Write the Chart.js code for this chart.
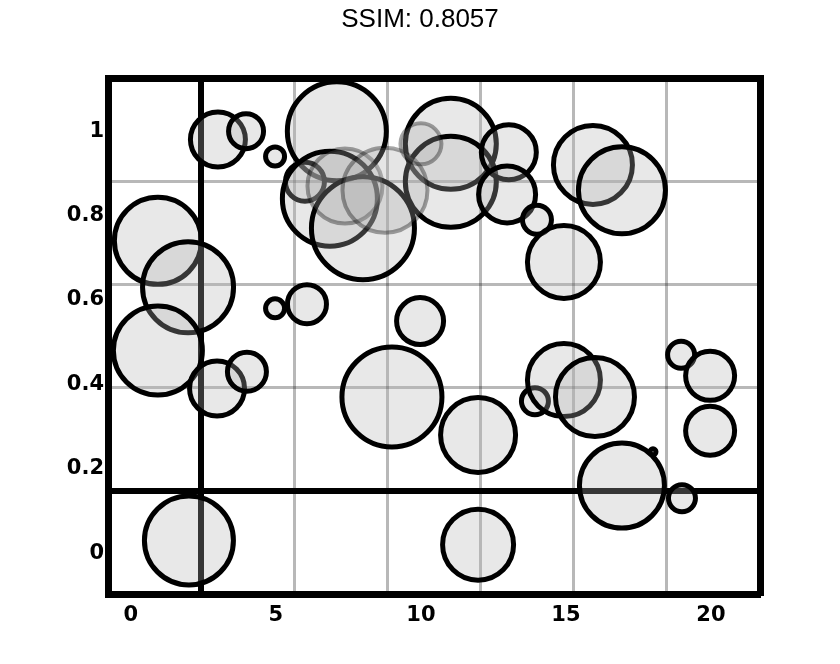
<!DOCTYPE html>
<html>
<head>
<meta charset="utf-8">
<script src="https://cdn.jsdelivr.net/npm/chart.js@4"></script>
<style>
  body { margin: 0; background: #fff; }
  #wrap { width: 840px; height: 664px; }
</style>
</head>
<body>
<div id="wrap"><canvas id="bubbleChart" width="840" height="664"></canvas></div>
<script>
// values
const xValues = [2.0, 11.97, 9.97, 9.0, 11.97, 13.93, 14.93, 16.0, 18.97, 19.97, 19.97, 16.93, 19.0, 18.0,
  0.93, 1.97, 0.93, 2.97, 4.0, 4.97, 6.07, 11.03, 11.03, 13.03, 12.97, 14.0, 14.93, 15.93, 16.93,
  7.1, 6.0, 6.86, 8.0, 3.0, 3.97, 4.97];
const yValues = [0.03, 0.02, 0.55, 0.37, 0.28, 0.36, 0.41, 0.37, 0.47, 0.42, 0.29, 0.16, 0.13, 0.24,
  0.74, 0.63, 0.48, 0.39, 0.43, 0.58, 0.59, 0.97, 0.88, 0.95, 0.85, 0.79, 0.69, 0.92, 0.86,
  1.0, 0.88, 0.84, 0.77, 0.98, 1.0, 0.94];
const bubbleSize = [44.5, 35.5, 23.5, 50, 37.5, 13.5, 36.5, 39.5, 13.5, 24.5, 24.5, 42.5, 13.5, 3,
  43.5, 45.5, 44.5, 27.5, 19.5, 9.5, 19.5, 45.5, 45.5, 27.5, 28.5, 14.5, 36.5, 39.5, 43.5,
  49.5, 19.5, 47.5, 51.5, 27.5, 17.5, 9.5];
// bubbles whose outline shows only faintly through the cluster
const faintX = [7.38, 8.76, 10.0];
const faintY = [0.87, 0.86, 0.97];
const faintSize = [37.5, 42.5, 20.5];
const xTicks = [0, 5, 10, 15, 20];
const yTicks = [0, 0.2, 0.4, 0.6, 0.8, 1];

const points = xValues.map((x, i) => ({ x: x, y: yValues[i], r: bubbleSize[i] }));
const faintPoints = faintX.map((x, i) => ({ x: x, y: faintY[i], r: faintSize[i] }));

const gridColor = c => c.tick.value === 1 ? '#000' : 'rgba(0,0,0,0.28)';
const gridWidth = c => c.tick.value === 1 ? 6 : 3;
const labelFont = { family: 'DejaVu Sans', size: 21, weight: 'bold' };

const ctx = document.getElementById('bubbleChart').getContext('2d');
new Chart(ctx, {
  type: 'bubble',
  data: {
    datasets: [{
      data: faintPoints,
      backgroundColor: 'rgba(170,170,170,0.3)',
      borderColor: 'rgba(0,0,0,0.35)',
      borderWidth: 4
    }, {
      data: points,
      backgroundColor: 'rgba(180,180,180,0.3)',
      borderColor: '#000',
      borderWidth: 5
    }]
  },
  options: {
    responsive: false,
    animation: false,
    layout: { padding: 0 },
    plugins: {
      legend: { display: false },
      tooltip: { enabled: false },
      title: {
        display: true,
        text: 'SSIM: 0.8057',
        color: '#000',
        font: { family: 'Liberation Sans', size: 26, weight: 'normal' },
        padding: { top: 4, bottom: 42.8 }
      }
    },
    scales: {
      x: {
        type: 'linear',
        position: 'bottom',
        min: -0.79,
        max: 21.69,
        afterBuildTicks: a => { a.ticks = xTicks.map(v => ({ value: v })); },
        afterFit: a => { a.height = 70; },
        grid: { display: false, drawTicks: false },
        border: { display: true, color: '#000', width: 7 },
        ticks: { color: '#000', font: labelFont, padding: 9, callback: v => String(v) }
      },
      y: {
        type: 'linear',
        position: 'left',
        min: -0.097,
        max: 1.126,
        afterBuildTicks: a => { a.ticks = yTicks.map(v => ({ value: v })); },
        afterFit: a => { a.width = 108; },
        grid: { display: false, drawTicks: false },
        border: { display: true, color: '#000', width: 7 },
        ticks: { color: '#000', font: labelFont, padding: 4, callback: v => String(v) }
      },
      x2: {
        type: 'linear',
        position: 'top',
        min: 0,
        max: 7,
        ticks: { display: false, stepSize: 1 },
        afterFit: a => { a.height = 0; },
        grid: { color: gridColor, lineWidth: gridWidth, drawTicks: false },
        border: { display: true, color: '#000', width: 7 }
      },
      y2: {
        type: 'linear',
        position: 'right',
        min: 0,
        max: 5,
        ticks: { display: false, stepSize: 1 },
        afterFit: a => { a.width = 80; },
        grid: { color: gridColor, lineWidth: gridWidth, drawTicks: false },
        border: { display: true, color: '#000', width: 7 }
      }
    }
  }
});
</script>
</body>
</html>
